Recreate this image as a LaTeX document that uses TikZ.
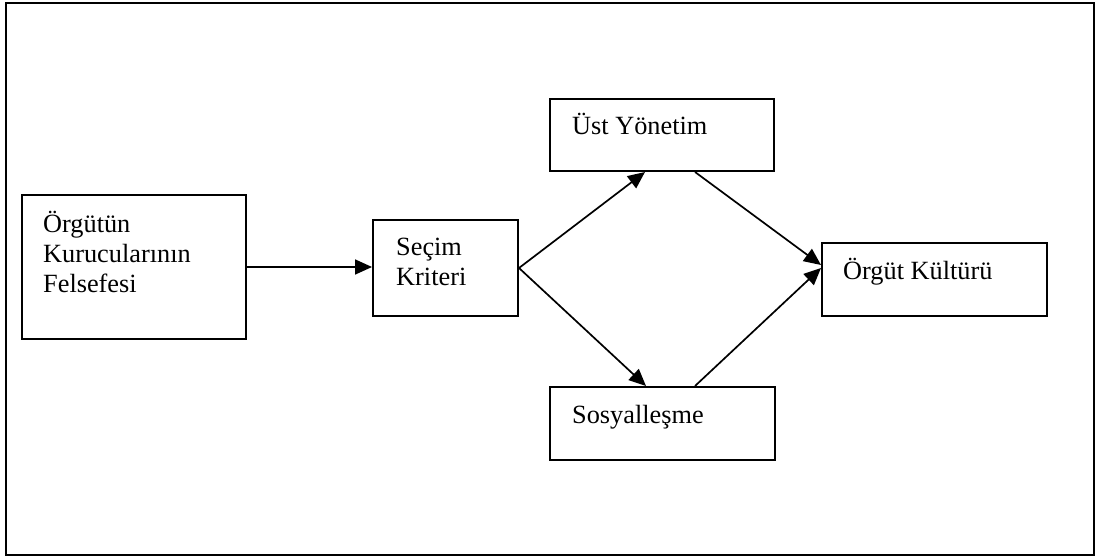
\documentclass[tikz,border=0pt]{standalone}
\usepackage{fontspec}
\setmainfont{Liberation Serif}
\usetikzlibrary{arrows.meta,calc}
\begin{document}
\begin{tikzpicture}[x=1pt,y=-1pt,
  box/.style={draw,line width=2pt,rectangle,inner sep=0pt,minimum width=#1},
  lbl/.style={anchor=base west,inner sep=0pt,align=left,
    font=\fontsize{26.3}{30}\selectfont},
  link/.style={line width=1.7pt,-{Triangle[length=17pt,width=15pt]}}]
  \useasboundingbox (0,0) rectangle (1098,559);
  % outer frame
  \draw[line width=2.6pt] (6,3) rectangle (1094,555);

  % boxes
  \node[box=224pt,minimum height=144pt] (b1) at (134,267) {};
  \node[box=145pt,minimum height=96pt]  (b2) at (445.5,268) {};
  \node[box=224pt,minimum height=72pt]  (b3) at (662,135) {};
  \node[box=225pt,minimum height=73pt]  (b4) at (934.5,279.5) {};
  \node[box=225pt,minimum height=73pt]  (b5) at (662.5,423.5) {};

  % labels (base anchor sits on the last line of a multi-line node)
  \node[lbl] (t1) at (43,292) {Örgütün\\Kurucularının\\Felsefesi};
  \node[lbl] (t2) at (396,285) {Seçim\\Kriteri};
  \node[lbl] (t3) at (572,135) {Üst Yönetim};
  \node[lbl] (t4) at (843,279) {Örgüt Kültürü};
  \node[lbl] (t5) at (572,423) {Sosyalleşme};

  % connection points
  \coordinate (b3in)  at ($(b3.south)+(-17,0)$);
  \coordinate (b3out) at ($(b3.south)+(33,0)$);
  \coordinate (b5in)  at ($(b5.north)+(-16.5,0)$);
  \coordinate (b5out) at ($(b5.north)+(32.5,0)$);
  \coordinate (b4a)   at ($(b4.west)+(0,-14.5)$);
  \coordinate (b4b)   at ($(b4.west)+(0,-11.5)$);

  % connectors
  \draw[link] (b1.east) -- (b1.east -| b2.west);
  \draw[link] (b2.east) -- (b3in);
  \draw[link] (b2.east) -- (b5in);
  \draw[link] (b3out) -- (b4a);
  \draw[link] (b5out) -- (b4b);
\end{tikzpicture}
\end{document}
